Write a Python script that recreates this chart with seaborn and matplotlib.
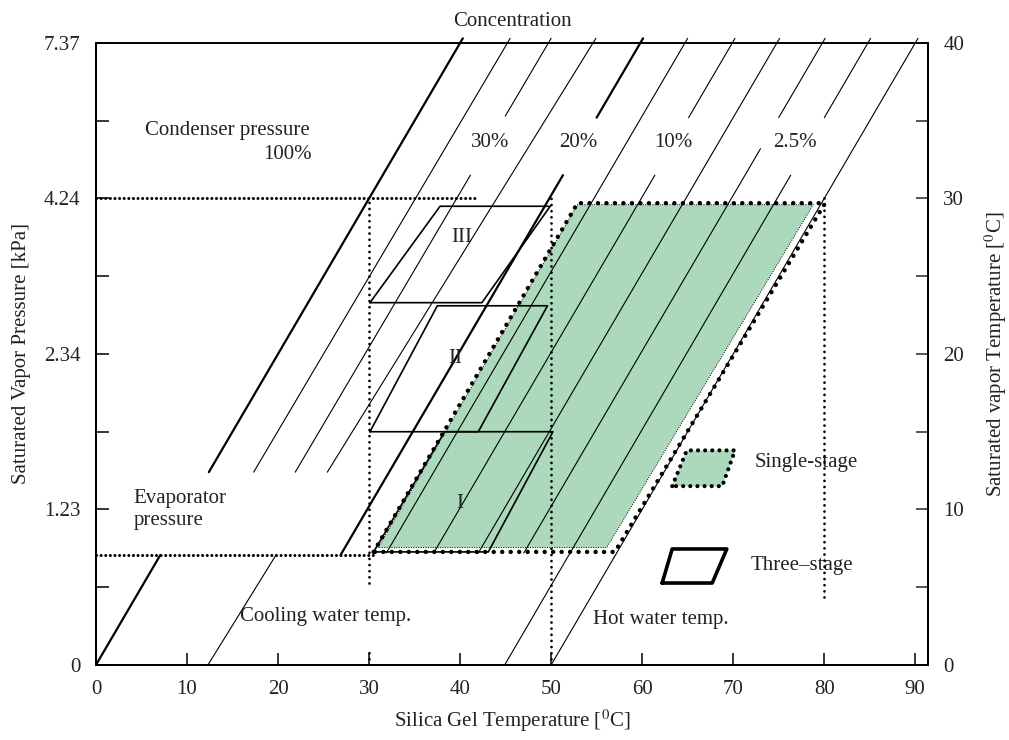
"""Duhring diagram: single-stage vs three-stage adsorption cycle."""

import matplotlib

matplotlib.use("Agg")
import matplotlib.pyplot as plt
import pandas as pd
import seaborn as sns

sns.set_theme(style="ticks")
plt.rcParams["font.family"] = ["Liberation Serif", "DejaVu Serif"]
plt.rcParams["mathtext.fontset"] = "stix"
plt.rcParams["font.size"] = 15

# concentration lines: x where each line meets y=0 and y=40
line_x_bottom = [0.0, 4.8, 9.4, 12.3, 19.8, 24.7, 29.9, 34.8, 39.8, 44.9, 50.0]
line_x_top = [40.0, 45.2, 49.7, 54.6, 59.8, 64.7, 69.9, 74.8, 79.8, 84.8, 90.0]
# visible parts of each line (y from, y to)
line_spans = [
    [(0.0, 7.07), (12.4, 40.3)],
    [(12.4, 40.3)],
    [(12.4, 31.5), (35.3, 40.3)],
    [(0.0, 7.07), (12.4, 40.3)],
    [(7.07, 31.5), (35.2, 40.3)],
    [(7.2, 40.3)],
    [(7.2, 31.5), (35.2, 40.3)],
    [(7.2, 40.3)],
    [(7.2, 33.2), (35.2, 40.3)],
    [(0.0, 31.5), (35.2, 40.3)],
    [(0.0, 40.3)],
]
thick_lines = [0, 4]

conc_labels = ["30%", "20%", "10%", "2.5%"]
conc_label_x = [43.3, 53.0, 63.4, 76.8]

# condenser / evaporator pressure levels (dotted)
press_y = [30.0, 7.07]
press_x0 = [0.0, 0.0]
press_x1 = [42.0, 30.4]
# temperature markers (dotted verticals)
temp_x = [30.0, 30.0, 50.0, 80.0]
temp_y0 = [5.3, 0.0, 0.0, 4.4]
temp_y1 = [30.0, 1.1, 30.2, 30.4]

# single-stage cycle
single_fill_x = [31.0, 52.9, 78.8, 56.1]
single_fill_y = [7.55, 29.6, 29.6, 7.55]
single_x = [30.5, 52.9, 80.1, 57.0]
single_y = [7.27, 29.7, 29.7, 7.27]

# three-stage cycles
stage_names = ["I", "II", "III"]
stage_x = [
    [30.5, 43.1, 50.2, 38.3],
    [30.1, 42.0, 49.6, 37.5],
    [30.1, 42.4, 49.9, 37.8],
]
stage_y = [
    [7.27, 7.27, 15.0, 15.0],
    [15.0, 15.0, 23.1, 23.1],
    [23.3, 23.3, 29.5, 29.5],
]
stage_label_xy = [(40.0, 10.4), (39.5, 19.7), (40.2, 27.5)]

# legend swatches
key_single_x = [63.3, 64.9, 70.2, 68.8]
key_single_y = [11.5, 13.8, 13.8, 11.5]
key_three_x = [62.2, 63.3, 69.3, 67.7]
key_three_y = [5.27, 7.46, 7.46, 5.27]

pressure_ticks = [0, 10, 20, 30, 40]
pressure_labels = ["0", "1.23", "2.34", "4.24", "7.37"]

GREEN = "#acd9bb"
INK = "#222222"

rows = []
seg = 0
for i, (xb, xt) in enumerate(zip(line_x_bottom, line_x_top)):
    for y0, y1 in line_spans[i]:
        for yy in (y0, y1):
            rows.append({"seg": seg, "line": i, "x": xb + (xt - xb) * yy / 40.0, "y": yy})
        seg += 1
lines_df = pd.DataFrame(rows)
lines_df["thick"] = lines_df["line"].isin(thick_lines)

fig = plt.figure(figsize=(10.09, 7.40), dpi=100)
ax = fig.add_axes([0.0951, 0.1014, 0.8246, 0.8405])

sns.lineplot(data=lines_df[~lines_df["thick"]], x="x", y="y", units="seg",
             estimator=None, sort=False, color="black", lw=0.8, ax=ax, clip_on=False)
sns.lineplot(data=lines_df[lines_df["thick"]], x="x", y="y", units="seg",
             estimator=None, sort=False, color="black", lw=1.6, ax=ax, clip_on=False)

# single-stage area
ax.fill(single_fill_x, single_fill_y, facecolor=GREEN, edgecolor="black",
        ls=(0, (1, 1.5)), lw=0.7, zorder=1)
ax.plot(single_x + single_x[:1], single_y + single_y[:1], color="black", lw=3.2,
        ls=(0, (0.01, 1.9)), dash_capstyle="round", zorder=4)

# three-stage parallelograms
for sx, sy in zip(stage_x, stage_y):
    ax.plot(sx + sx[:1], sy + sy[:1], color="black", lw=1.2, zorder=3)
for name, (lx, ly) in zip(stage_names, stage_label_xy):
    ax.text(lx, ly, name, ha="center", va="center", fontsize=15, color=INK, zorder=5)

dot = dict(color="black", dash_capstyle="round", zorder=4)
for y, x0, x1 in zip(press_y, press_x0, press_x1):
    ax.plot([x0, x1], [y, y], lw=2.2, ls=(0, (0.01, 1.5)), **dot)
for x, y0, y1 in zip(temp_x, temp_y0, temp_y1):
    ax.plot([x, x], [y0, y1], lw=2.0, ls=(0, (0.01, 2.2)), **dot)

# legend swatches
ax.fill(key_single_x, key_single_y, facecolor=GREEN, edgecolor="none", zorder=1)
ax.plot(key_single_x + key_single_x[:1], key_single_y + key_single_y[:1], color="black",
        lw=3.0, ls=(0, (0.01, 1.7)), dash_capstyle="round", zorder=4)
ax.plot(key_three_x + key_three_x[:1], key_three_y + key_three_y[:1], color="black",
        lw=2.6, zorder=4)
ax.text(72.4, 13.05, "Single-stage", ha="left", va="center", color=INK)
ax.text(71.9, 6.4, "Three\u2013stage", ha="left", va="center", color=INK)

# annotations
ax.text(5.4, 34.4, "Condenser pressure", ha="left", va="center", color=INK)
ax.text(23.7, 32.8, "100%", ha="right", va="center", color=INK)
for lab, lx in zip(conc_labels, conc_label_x):
    ax.text(lx, 33.6, lab, ha="center", va="center", color=INK)
ax.text(4.1, 10.0, "Evaporator\npressure", ha="left", va="center", color=INK,
        linespacing=1.2)
ax.text(15.8, 3.1, "Cooling water temp.", ha="left", va="center", color=INK)
ax.text(54.6, 2.9, "Hot water temp.", ha="left", va="center", color=INK)

ax.set_xlim(0, 91.4)
ax.set_ylim(0, 40)
ax.set_xticks(range(0, 91, 10))
ax.set_yticks(pressure_ticks)
ax.set_yticklabels(pressure_labels)
ax.set_yticks([5, 15, 25, 35], minor=True)
ax.set_xlabel("Silica Gel Temperature [$^0$C]", fontsize=15, color=INK, labelpad=6)
ax.set_ylabel("Saturated Vapor Pressure [kPa]", fontsize=15, color=INK, labelpad=9)
ax.set_title("Concentration", pad=12, fontsize=15, color=INK)
ax.tick_params(axis="both", which="both", direction="in", length=9, width=1.1,
               labelsize=15, pad=11, colors="black", labelcolor=INK)
ax.tick_params(axis="x", top=False)

ax2 = ax.twinx()
ax2.set_ylim(0, 40)
ax2.set_yticks(pressure_ticks)
ax2.set_yticks([5, 15, 25, 35], minor=True)
ax2.set_ylabel("Saturated vapor Temperature [$^0$C]", fontsize=15, color=INK, labelpad=13)
ax2.tick_params(axis="y", which="both", direction="in", length=9, width=1.1,
                labelsize=15, pad=11, labelcolor=INK)
for a in (ax, ax2):
    for sp in a.spines.values():
        sp.set_linewidth(1.3)
        sp.set_color("black")

fig.savefig("out.png", dpi=100)
